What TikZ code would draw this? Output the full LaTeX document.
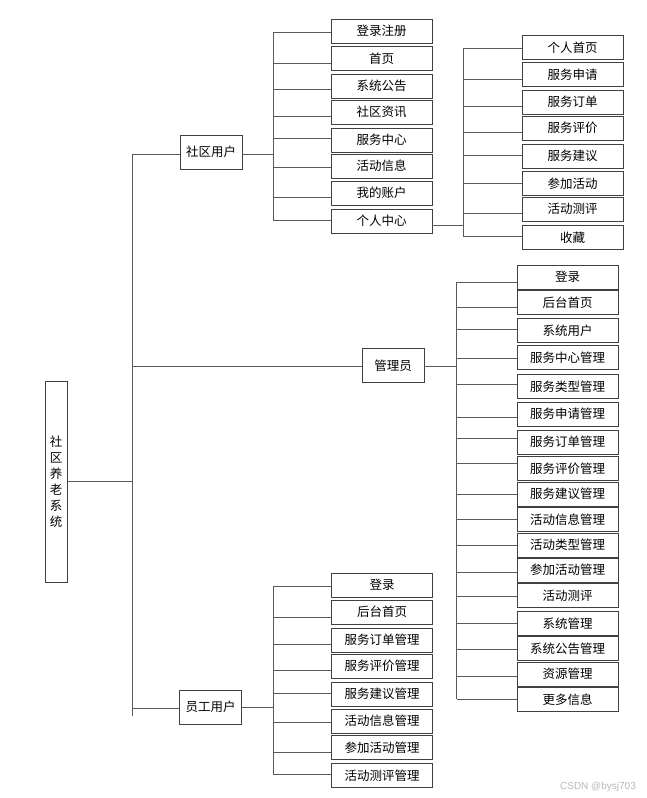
\documentclass[tikz,border=0pt]{standalone}
\usepackage{fontspec}
\newfontfamily\cjk{Noto Sans CJK SC}
\newfontfamily\wmfont{Liberation Sans}
\definecolor{boxc}{HTML}{404040}
\definecolor{linec}{HTML}{5A5A5A}
\definecolor{wmc}{HTML}{B8B8B8}
\begin{document}
\begin{tikzpicture}[x=1pt,y=-1pt,
  box/.style={draw=boxc, line width=0.9pt, inner sep=0pt, minimum width=101pt, minimum height=24pt, font=\cjk\fontsize{12.5}{14}\selectfont, fill=white},
  lbox/.style={box, minimum width=62pt, minimum height=34pt},
  conn/.style={draw=linec, line width=0.9pt}]
\useasboundingbox (0,0) rectangle (646,798);

% root
\node[box, minimum width=22pt, minimum height=201pt, align=center, font=\cjk\fontsize{12.5}{16}\selectfont] (root) at (56,481.5) {社\\区\\养\\老\\系\\统};

% level 1
\node[lbox] (user) at (211,152) {社区用户};
\node[lbox] (admin) at (393,365.5) {管理员};
\node[lbox] (staff) at (210.5,707) {员工用户};

% trunk
\coordinate (t1) at (132,154);
\coordinate (t2) at (132,716);
\coordinate (tr) at (132,481);
\coordinate (t3) at (132,366);
\coordinate (t4) at (132,708);
\draw[conn] (t1) -- (t2);
\draw[conn] (root.east |- tr) -- (tr);
\draw[conn] (t1) -- (t1 -| user.west);
\draw[conn] (t3) -- (t3 -| admin.west);
\draw[conn] (t4) -- (t4 -| staff.west);

% group 1: community user
\foreach \t/\c/\e [count=\i] in {登录注册/31/32, 首页/58.5/63, 系统公告/86/89.5, 社区资讯/112/116, 服务中心/140/138.5, 活动信息/166/167, 我的账户/193/197.5, 个人中心/221/220} {
  \node[box] (a\i) at (381.5,\c) {\t};
  \coordinate (ja\i) at (273,\e);
  \draw[conn] (ja\i) -- (ja\i -| a\i.west);
}
\draw[conn] (ja1) -- (ja8);
\coordinate (ua) at (273,154);
\draw[conn] (ua -| user.east) -- (ua);

% group 2: personal center
\foreach \t/\c/\e [count=\i] in {个人首页/47.5/48.5, 服务申请/74.5/79, 服务订单/102/106.5, 服务评价/128/132.5, 服务建议/156/155, 参加活动/183.5/183.5, 活动测评/209/213, 收藏/237.5/236.5} {
  \node[box] (b\i) at (572.5,\c) {\t};
  \coordinate (jb\i) at (463,\e);
  \draw[conn] (jb\i) -- (jb\i -| b\i.west);
}
\draw[conn] (jb1) -- (jb8);
\coordinate (ub) at (463,225);
\draw[conn] (ub -| a8.east) -- (ub);

% group 3: admin
\foreach \t/\c/\e [count=\i] in {登录/277/282, 后台首页/302.5/307, 系统用户/330.5/329, 服务中心管理/357.5/358, 服务类型管理/386.5/384, 服务申请管理/414/417.5, 服务订单管理/442/438.5, 服务评价管理/468.5/463, 服务建议管理/494/494, 活动信息管理/519.5/519, 活动类型管理/545/545, 参加活动管理/570/572.5, 活动测评/595.5/596, 系统管理/623.5/623, 系统公告管理/648.5/649, 资源管理/674/676, 更多信息/699.5/699} {
  \node[box] (c\i) at (567.5,\c) {\t};
  \coordinate (jc\i) at (456.5,\e);
  \draw[conn] (jc\i) -- (jc\i -| c\i.west);
}
\draw[conn] (jc1) -- (jc17);
\coordinate (uc) at (456.5,366);
\draw[conn] (uc -| admin.east) -- (uc);

% group 4: staff
\foreach \t/\c/\e [count=\i] in {登录/585/586, 后台首页/612/617, 服务订单管理/640/644, 服务评价管理/666/670, 服务建议管理/694/693, 活动信息管理/721/722, 参加活动管理/747.5/752, 活动测评管理/775.5/774} {
  \node[box] (d\i) at (382,\c) {\t};
  \coordinate (jd\i) at (273,\e);
  \draw[conn] (jd\i) -- (jd\i -| d\i.west);
}
\draw[conn] (jd1) -- (jd8);
\coordinate (ud) at (273,707.5);
\draw[conn] (ud -| staff.east) -- (ud);

% watermark
\node[font=\wmfont\fontsize{10}{12}\selectfont, text=wmc, inner sep=0pt] (wm) at (598,787) {CSDN @bysj703};
\end{tikzpicture}
\end{document}
